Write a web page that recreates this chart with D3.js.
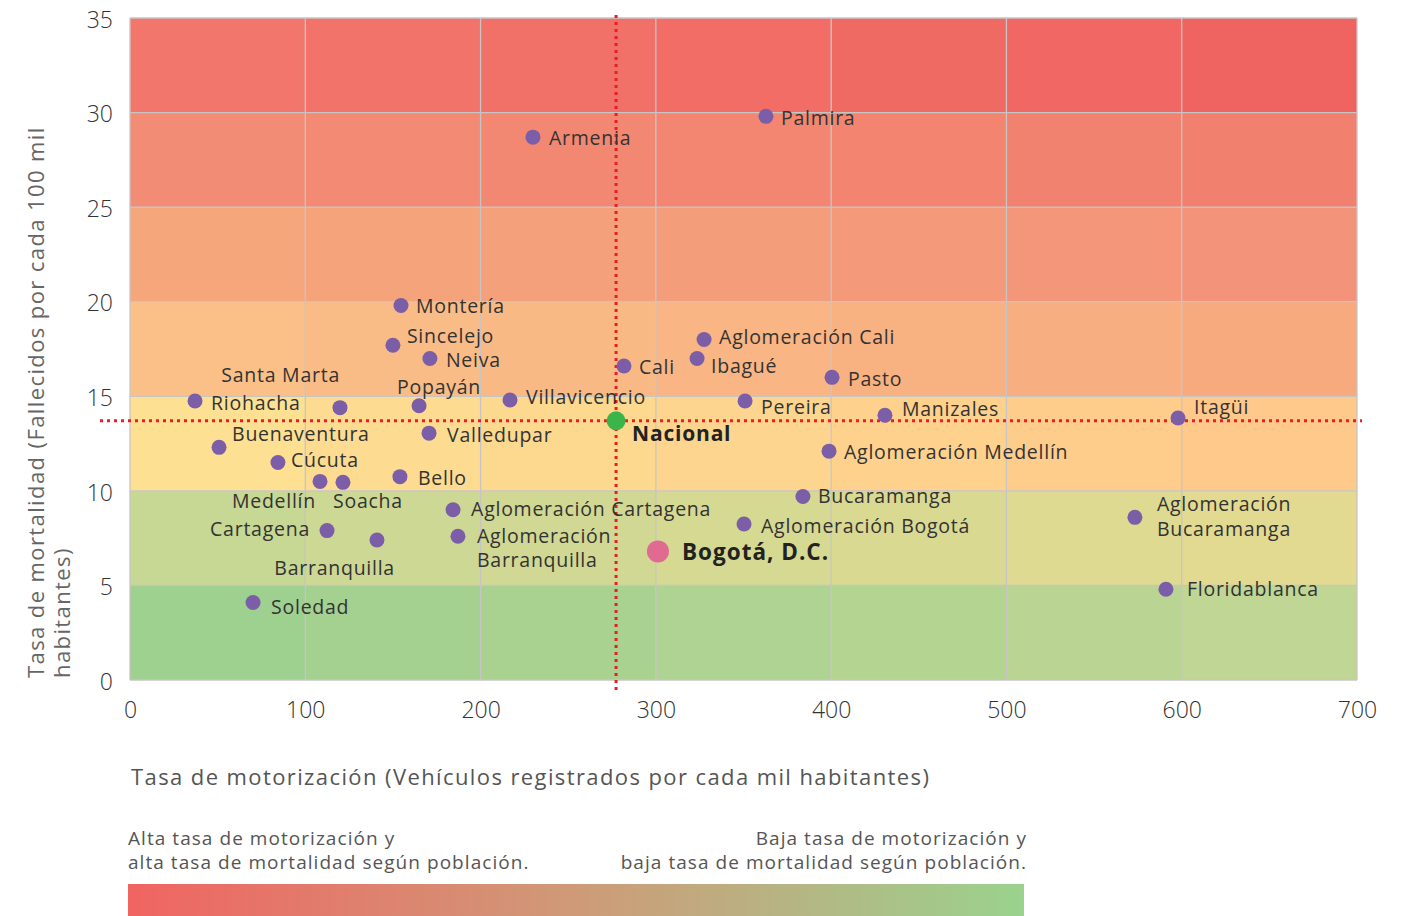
<!DOCTYPE html>
<html><head><meta charset="utf-8">
<script src="https://cdn.jsdelivr.net/npm/d3@7"></script>
<style>
html,body{margin:0;padding:0;background:#fff;}
svg{display:block;font-family:"Open Sans","Noto Sans",sans-serif;}
</style></head>
<body>
<svg id="chart" width="1417" height="916"></svg>
<script>
// ---- data ----
const cities = ["Armenia","Palmira","Montería","Sincelejo","Neiva","Santa Marta","Riohacha","Popayán","Villavicencio","Cali",
  "Buenaventura","Valledupar","Cúcuta","Bello","Medellín","Soacha","Aglomeración Cartagena","Cartagena","Aglomeración Barranquilla",
  "Barranquilla","Soledad","Aglomeración Cali","Ibagué","Pasto","Pereira","Manizales","Itagüi","Aglomeración Medellín",
  "Bucaramanga","Aglomeración Bogotá","Aglomeración Bucaramanga","Floridablanca"];
const motorization = [229.9,362.8,154.6,150.0,171.1,119.8,37.1,164.9,216.8,281.8,
  50.8,170.6,84.4,154.0,108.4,121.5,184.3,112.4,187.1,
  140.9,70.2,327.5,323.5,400.5,350.9,430.7,597.9,398.8,
  383.9,350.3,573.3,591.0];
const mortality = [28.7,29.8,19.8,17.7,17.0,14.4,14.75,14.5,14.8,16.6,
  12.3,13.05,11.5,10.75,10.5,10.45,9.0,7.9,7.6,
  7.4,4.1,18.0,17.0,16.0,14.75,14.0,13.85,12.1,
  9.7,8.25,8.6,4.8];
const nationalName = "Nacional", nationalX = 277.3, nationalY = 13.7;
const bogotaName = "Bogotá, D.C.", bogotaX = 301.2, bogotaY = 6.8;

const xTicks = [0,100,200,300,400,500,600,700];
const yTicks = [0,5,10,15,20,25,30,35];
const xTitle = "Tasa de motorización (Vehículos registrados por cada mil habitantes)";
const yTitle = ["Tasa de mortalidad (Fallecidos por cada 100 mil","habitantes)"];
const legendLeft = ["Alta tasa de motorización y","alta tasa de mortalidad según población."];
const legendRight = ["Baja tasa de motorización y","baja tasa de mortalidad según población."];

// ---- style / layout ----
const bandLeft  = ["#9ed08f","#c7d794","#fde092","#fbc088","#f5a67b","#f38c74","#f2766b"];
const bandRight = ["#bfd694","#e2da90","#fec98a","#f6aa7e","#f3937a","#f1806e","#ef6461"];
// label offsets [dx, dy, anchor] relative to points
const labelPos = {
  "Armenia":[16,1],"Palmira":[15,2],"Montería":[15,1],"Sincelejo":[14,-9],"Neiva":[16,2],
  "Santa Marta":[0,-32,"end"],"Riohacha":[16,2],"Popayán":[-22,-19],"Villavicencio":[16,-3],"Cali":[15,1],
  "Buenaventura":[13,-13],"Valledupar":[18,2],"Cúcuta":[13,-2],"Bello":[18,2],"Medellín":[-4,20,"end"],
  "Soacha":[-10,19],"Aglomeración Cartagena":[18,-1],"Cartagena":[-17,-1,"end"],"Aglomeración Barranquilla":[19,0],
  "Barranquilla":[18,28,"end"],"Soledad":[18,5],"Aglomeración Cali":[15,-2],"Ibagué":[14,8],"Pasto":[16,2],
  "Pereira":[16,6],"Manizales":[17,-6],"Itagüi":[16,-11],"Aglomeración Medellín":[15,1],
  "Bucaramanga":[15,0],"Aglomeración Bogotá":[17,2],"Aglomeración Bucaramanga":[22,-13],"Floridablanca":[21,0]
};

const svg = d3.select("#chart");
const x = d3.scaleLinear().domain([0,700]).range([130,1357]);
const y = d3.scaleLinear().domain([0,35]).range([680,18]);

// background cells
const gBg = svg.append("g");
for (let b = 0; b < 7; b++) {
  const interp = d3.interpolateRgb(bandLeft[b], bandRight[b]);
  for (let c = 0; c < 7; c++) {
    gBg.append("rect")
      .attr("x", x(xTicks[c])).attr("y", y(yTicks[b+1]))
      .attr("width", x(xTicks[c+1]) - x(xTicks[c]))
      .attr("height", y(yTicks[b]) - y(yTicks[b+1]))
      .attr("fill", interp(c/6));
  }
}
// grid
const gGrid = svg.append("g").attr("stroke","#c9c4c4").attr("stroke-width",1.3).attr("fill","none");
xTicks.forEach(t => gGrid.append("line").attr("x1",x(t)).attr("x2",x(t)).attr("y1",y(0)).attr("y2",y(35)));
yTicks.forEach(t => gGrid.append("line").attr("x1",x(0)).attr("x2",x(700)).attr("y1",y(t)).attr("y2",y(t)));

// axes
const yAxis = svg.append("g").attr("transform","translate(113,0)")
  .call(d3.axisLeft(y).tickValues(yTicks).tickSize(0).tickPadding(0));
yAxis.select(".domain").remove();
yAxis.selectAll("text").attr("font-size",23).attr("font-weight",300).attr("fill","#333")
  .attr("font-family","'Open Sans',sans-serif").attr("dy","0.4em");
const xAxis = svg.append("g").attr("transform","translate(0,700)")
  .call(d3.axisBottom(x).tickValues(xTicks).tickSize(0).tickPadding(0));
xAxis.select(".domain").remove();
xAxis.selectAll("text").attr("font-size",23).attr("font-weight",300).attr("fill","#333")
  .attr("font-family","'Open Sans',sans-serif").attr("dy","0.78em");

// titles
svg.append("g").attr("transform","translate(44,678) rotate(-90)")
  .selectAll("text").data(yTitle).join("text")
  .attr("x",0).attr("y",(d,i)=>i*26)
  .attr("font-size",22).attr("letter-spacing",1.4).attr("fill","#666").text(d=>d);
svg.append("text").attr("x",131).attr("y",785).attr("font-size",22).attr("letter-spacing",1.4)
  .attr("fill","#555").text(xTitle);

// national reference lines
svg.append("line").attr("x1",100).attr("x2",1362).attr("y1",y(nationalY)).attr("y2",y(nationalY))
  .attr("stroke","#ea1c24").attr("stroke-width",3).attr("stroke-dasharray","3,4");
svg.append("line").attr("x1",x(nationalX)).attr("x2",x(nationalX)).attr("y1",15).attr("y2",692)
  .attr("stroke","#ea1c24").attr("stroke-width",3).attr("stroke-dasharray","3,4");

// points
const pts = cities.map((c,i)=>({name:c, mx:motorization[i], my:mortality[i]}));
const gPts = svg.append("g");
gPts.selectAll("circle").data(pts).join("circle")
  .attr("cx",d=>x(d.mx)).attr("cy",d=>y(d.my)).attr("r",7.5).attr("fill","#7b5ea7");
const gLab = svg.append("g").attr("font-size",19.5).attr("letter-spacing",0.75).attr("fill","#333");
pts.forEach(d => {
  const o = labelPos[d.name] || [15,0];
  const words = (d.name==="Aglomeración Barranquilla" || d.name==="Aglomeración Bucaramanga")
    ? ["Aglomeración", d.name.slice(13)] : [d.name];
  const t = gLab.append("text").attr("x",x(d.mx)+o[0]).attr("y",y(d.my)+o[1])
    .attr("text-anchor", o[2] || "start");
  words.forEach((w,i)=>t.append("tspan").attr("x",x(d.mx)+o[0]).attr("dy", i===0?"0.35em":"1.25em").text(w));
});
// national
svg.append("circle").attr("cx",x(nationalX)).attr("cy",y(nationalY)).attr("r",9.5).attr("fill","#3bb54a");
svg.append("text").attr("x",x(nationalX)+16).attr("y",y(nationalY)+13).attr("dy","0.35em")
  .attr("font-size",21).attr("letter-spacing",0.8).attr("font-weight",700).attr("fill","#222").text(nationalName);
// bogota
svg.append("circle").attr("cx",x(bogotaX)).attr("cy",y(bogotaY)).attr("r",11).attr("fill","#e06a90");
svg.append("text").attr("x",x(bogotaX)+24).attr("y",y(bogotaY)+1).attr("dy","0.35em")
  .attr("font-size",22.5).attr("letter-spacing",1).attr("font-weight",700).attr("fill","#222").text(bogotaName);

// legend
svg.append("g").selectAll("text").data(legendLeft).join("text")
  .attr("x",128).attr("y",(d,i)=>845+i*24).attr("font-size",19).attr("letter-spacing",1.05)
  .attr("fill","#555").text(d=>d);
svg.append("g").selectAll("text").data(legendRight).join("text")
  .attr("x",1027).attr("y",(d,i)=>845+i*24).attr("text-anchor","end").attr("font-size",19).attr("letter-spacing",1.05)
  .attr("fill","#555").text(d=>d);
const defs = svg.append("defs");
const lg = defs.append("linearGradient").attr("id","lg");
lg.append("stop").attr("offset","0%").attr("stop-color","#f06462");
lg.append("stop").attr("offset","50%").attr("stop-color","#cf9a78");
lg.append("stop").attr("offset","100%").attr("stop-color","#9ad28e");
svg.append("rect").attr("x",128).attr("y",884).attr("width",896).attr("height",32).attr("fill","url(#lg)");
</script>
</body></html>
